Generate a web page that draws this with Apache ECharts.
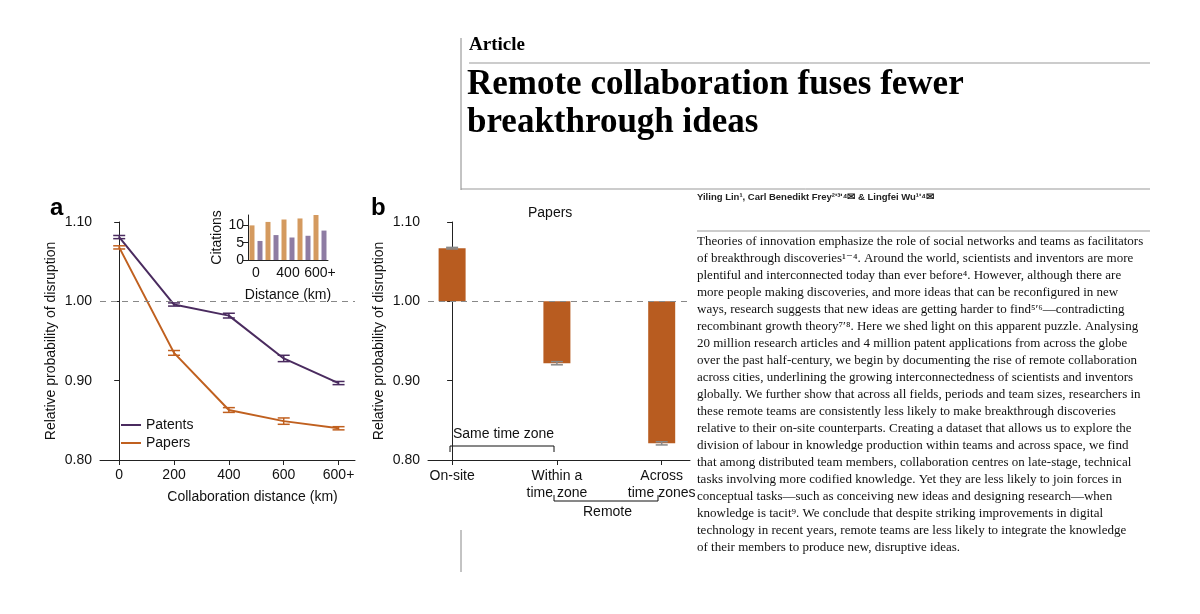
<!DOCTYPE html>
<html>
<head>
<meta charset="utf-8">
<script src="https://cdn.jsdelivr.net/npm/echarts@6/dist/echarts.min.js"></script>
<style>html,body{margin:0;background:#fff}#main{width:1200px;height:614px}</style>
</head>
<body>
<div id="main"></div>
<script>
var chart = echarts.init(document.getElementById('main'));

// panel a
var distLabels = ['0', '200', '400', '600', '600+'];
var patents = [1.081, 0.996, 0.982, 0.928, 0.897];
var patentsErr = [0.002, 0.002, 0.003, 0.004, 0.002];
var papers = [1.068, 0.935, 0.863, 0.849, 0.840];
var papersErr = [0.002, 0.003, 0.003, 0.004, 0.002];
// inset
var insetCats = ['0', '200', '400', '600', '600+'];
var citePapers = [10, 11, 11.7, 12, 13];
var citePatents = [5.5, 7.2, 6.5, 7, 8.5];
// panel b
var zoneLabels = ['On-site', 'Within a\ntime zone', 'Across\ntime zones'];
var zoneValues = [1.067, 0.922, 0.821];
var zoneErr = [0.001, 0.002, 0.002];

var body = [
    'Theories of innovation emphasize the role of social networks and teams as facilitators',
    'of breakthrough discoveries\u00b9\u207b\u2074. Around the world, scientists and inventors are more',
    'plentiful and interconnected today than ever before\u2074. However, although there are',
    'more people making discoveries, and more ideas that can be reconfigured in new',
    'ways, research suggests that new ideas are getting harder to find\u2075\u02b9\u2076\u2014contradicting',
    'recombinant growth theory\u2077\u02b9\u2078. Here we shed light on this apparent puzzle. Analysing',
    '20 million research articles and 4 million patent applications from across the globe',
    'over the past half-century, we begin by documenting the rise of remote collaboration',
    'across cities, underlining the growing interconnectedness of scientists and inventors',
    'globally. We further show that across all fields, periods and team sizes, researchers in',
    'these remote teams are consistently less likely to make breakthrough discoveries',
    'relative to their on-site counterparts. Creating a dataset that allows us to explore the',
    'division of labour in knowledge production within teams and across space, we find',
    'that among distributed team members, collaboration centres on late-stage, technical',
    'tasks involving more codified knowledge. Yet they are less likely to join forces in',
    'conceptual tasks\u2014such as conceiving new ideas and designing research\u2014when',
    'knowledge is tacit\u2079. We conclude that despite striking improvements in digital',
    'technology in recent years, remote teams are less likely to integrate the knowledge',
    'of their members to produce new, disruptive ideas.'
];

var PURPLE = '#4a2b5f', ORANGE = '#c0601f';
var SANS = 'Liberation Sans, Arial, sans-serif';
var SERIF = 'Liberation Serif, DejaVu Serif, serif';
var tick = { fontFamily: SANS, fontSize: 14, color: '#111' };
var axLine = { show: true, lineStyle: { color: '#222', width: 1 } };

function errBars(vals, errs, color) {
    return {
        type: 'custom', xAxisIndex: 0, yAxisIndex: 0, z: 5,
        data: vals.map(function (v, i) { return [i, v - errs[i], v + errs[i]]; }),
        renderItem: function (params, api) {
            var lo = api.coord([api.value(0), api.value(1)]);
            var hi = api.coord([api.value(0), api.value(2)]);
            var st = { stroke: color, lineWidth: 1.5 };
            return { type: 'group', children: [
                { type: 'line', shape: { x1: lo[0], y1: lo[1], x2: hi[0], y2: hi[1] }, style: st },
                { type: 'line', shape: { x1: lo[0] - 6, y1: lo[1], x2: lo[0] + 6, y2: lo[1] }, style: st },
                { type: 'line', shape: { x1: hi[0] - 6, y1: hi[1], x2: hi[0] + 6, y2: hi[1] }, style: st }
            ] };
        }
    };
}

var graphics = [
    { type: 'text', left: 50, top: 196, style: { text: 'a', font: 'bold 24px ' + SANS, fill: '#000' } },
    { type: 'text', left: 371, top: 196, style: { text: 'b', font: 'bold 24px ' + SANS, fill: '#000' } },
    { type: 'text', left: 528, top: 206, style: { text: 'Papers', font: '14px ' + SANS, fill: '#111' } },
    { type: 'text', left: 453, top: 427, style: { text: 'Same time zone', font: '14px ' + SANS, fill: '#111' } },
    { type: 'polyline', shape: { points: [[450, 452], [450, 446], [554, 446], [554, 452]] }, style: { stroke: '#111', lineWidth: 1, fill: null } },
    { type: 'polyline', shape: { points: [[554, 495], [554, 501], [658, 501], [658, 495]] }, style: { stroke: '#111', lineWidth: 1, fill: null } },
    { type: 'text', left: 583, top: 505, style: { text: 'Remote', font: '14px ' + SANS, fill: '#111' } },
    // article header
    { type: 'line', shape: { x1: 461, y1: 38, x2: 461, y2: 190 }, style: { stroke: '#888', lineWidth: 1 } },
    { type: 'line', shape: { x1: 461, y1: 530, x2: 461, y2: 572 }, style: { stroke: '#888', lineWidth: 1 } },
    { type: 'text', left: 469, top: 36, style: { text: 'Article', font: 'bold 19px ' + SERIF, fill: '#000' } },
    { type: 'line', shape: { x1: 469, y1: 63, x2: 1150, y2: 63 }, style: { stroke: '#999', lineWidth: 1 } },
    { type: 'text', left: 467, top: 66, style: { text: 'Remote collaboration fuses fewer\nbreakthrough ideas', font: 'bold 35px ' + SERIF, fill: '#000', lineHeight: 38 } },
    { type: 'line', shape: { x1: 461, y1: 189, x2: 1150, y2: 189 }, style: { stroke: '#999', lineWidth: 1 } },
    { type: 'text', left: 697, top: 192, style: { text: 'Yiling Lin\u00b9, Carl Benedikt Frey\u00b2\u02b9\u00b3\u02b9\u2074\u2709 & Lingfei Wu\u00b9\u02b9\u2074\u2709', font: 'bold 9.5px ' + SANS, fill: '#222' } },
    { type: 'line', shape: { x1: 697, y1: 231, x2: 1150, y2: 231 }, style: { stroke: '#999', lineWidth: 1 } }
];
body.forEach(function (line, i) {
    graphics.push({ type: 'text', left: 697, top: 235 + i * 17, style: { text: line, font: '13px ' + SERIF, fill: '#111' } });
});

var option = {
    backgroundColor: '#fff',
    animation: false,
    grid: [
        { left: 100, top: 222, width: 255, height: 238 },
        { left: 248, top: 215, width: 80, height: 45 },
        { left: 428, top: 222, width: 262, height: 238 }
    ],
    legend: {
        left: 116, top: 413, orient: 'vertical', itemGap: 4, itemWidth: 20, itemHeight: 2,
        icon: 'rect', textStyle: { fontFamily: SANS, fontSize: 14, color: '#111' },
        data: ['Patents', 'Papers']
    },
    xAxis: [
        { gridIndex: 0, type: 'value', min: -0.35, max: 4.3,
          axisLine: axLine, splitLine: { show: false },
          axisTick: { show: true, customValues: [0, 1, 2, 3, 4], lineStyle: { color: '#222' } },
          axisLabel: Object.assign({ customValues: [0, 1, 2, 3, 4], formatter: function (v) { return distLabels[Math.round(v)]; } }, tick),
          name: 'Collaboration distance (km)', nameLocation: 'middle', nameGap: 30,
          nameTextStyle: { fontFamily: SANS, fontSize: 14, color: '#111', padding: [0, 0, 0, 50] } },
        { gridIndex: 1, type: 'category', data: insetCats,
          axisLine: axLine, axisTick: { show: false },
          axisLabel: Object.assign({ interval: 1, margin: 6 }, tick),
          name: 'Distance (km)', nameLocation: 'middle', nameGap: 28,
          nameTextStyle: { fontFamily: SANS, fontSize: 14, color: '#111' } },
        { gridIndex: 2, type: 'value', min: -0.23, max: 2.27,
          axisLine: axLine, splitLine: { show: false },
          axisTick: { show: true, customValues: [0, 1, 2], lineStyle: { color: '#222' } },
          axisLabel: Object.assign({ customValues: [0, 1, 2], lineHeight: 17, formatter: function (v) { return zoneLabels[Math.round(v)]; } }, tick) }
    ],
    yAxis: [
        { gridIndex: 0, type: 'value', min: 0.8, max: 1.1, interval: 0.1,
          axisLine: axLine, axisTick: { show: true, lineStyle: { color: '#222' } }, splitLine: { show: false },
          axisLabel: Object.assign({ formatter: function (v) { return v.toFixed(2); } }, tick),
          name: 'Relative probability of disruption', nameLocation: 'middle', nameGap: 42,
          nameTextStyle: { fontFamily: SANS, fontSize: 14, color: '#111' } },
        { gridIndex: 1, type: 'value', min: 0, max: 13, interval: 5,
          axisLine: axLine, axisTick: { show: true, lineStyle: { color: '#222' } }, splitLine: { show: false },
          axisLabel: Object.assign({ margin: 4 }, tick),
          name: 'Citations', nameLocation: 'middle', nameGap: 22,
          nameTextStyle: { fontFamily: SANS, fontSize: 14, color: '#111' } },
        { gridIndex: 2, type: 'value', min: 0.8, max: 1.1, interval: 0.1,
          axisLine: axLine, axisTick: { show: true, lineStyle: { color: '#222' } }, splitLine: { show: false },
          axisLabel: Object.assign({ formatter: function (v) { return v.toFixed(2); } }, tick),
          name: 'Relative probability of disruption', nameLocation: 'middle', nameGap: 42,
          nameTextStyle: { fontFamily: SANS, fontSize: 14, color: '#111' } }
    ],
    series: [
        { name: 'Patents', type: 'line', xAxisIndex: 0, yAxisIndex: 0, showSymbol: false, symbol: 'none',
          data: patents.map(function (v, i) { return [i, v]; }), lineStyle: { color: PURPLE, width: 2 }, itemStyle: { color: PURPLE },
          markLine: { silent: true, symbol: 'none', label: { show: false }, lineStyle: { color: '#888', type: [6, 5], width: 1.2 }, data: [{ yAxis: 1 }] } },
        { name: 'Papers', type: 'line', xAxisIndex: 0, yAxisIndex: 0, showSymbol: false, symbol: 'none',
          data: papers.map(function (v, i) { return [i, v]; }), lineStyle: { color: ORANGE, width: 2 }, itemStyle: { color: ORANGE } },
        errBars(patents, patentsErr, PURPLE),
        errBars(papers, papersErr, ORANGE),
        { type: 'bar', xAxisIndex: 1, yAxisIndex: 1, data: citePapers, barWidth: 5, barGap: '60%', itemStyle: { color: '#d49a5f' } },
        { type: 'bar', xAxisIndex: 1, yAxisIndex: 1, data: citePatents, barWidth: 5, itemStyle: { color: '#8e7ca3' } },
        { type: 'custom', xAxisIndex: 2, yAxisIndex: 2,
          data: zoneValues.map(function (v, i) { return [i, v, zoneErr[i]]; }),
          renderItem: function (params, api) {
              var i = api.value(0), v = api.value(1), e = api.value(2);
              var base = api.coord([i, 1]), top = api.coord([i, v]);
              var lo = api.coord([i, v - e]), hi = api.coord([i, v + e]);
              var w = 27;
              var st = { stroke: '#888', lineWidth: 1.5 };
              return { type: 'group', children: [
                  { type: 'rect', shape: { x: base[0] - w / 2, y: Math.min(base[1], top[1]), width: w, height: Math.abs(base[1] - top[1]) }, style: { fill: '#b85c20' } },
                  { type: 'line', shape: { x1: lo[0], y1: lo[1], x2: hi[0], y2: hi[1] }, style: st },
                  { type: 'line', shape: { x1: lo[0] - 6, y1: lo[1], x2: lo[0] + 6, y2: lo[1] }, style: st },
                  { type: 'line', shape: { x1: hi[0] - 6, y1: hi[1], x2: hi[0] + 6, y2: hi[1] }, style: st }
              ] };
          },
          markLine: { silent: true, symbol: 'none', label: { show: false }, lineStyle: { color: '#888', type: [6, 5], width: 1.2 }, data: [{ yAxis: 1 }] } }
    ],
    graphic: graphics
};
chart.setOption(option);
</script>
</body>
</html>
